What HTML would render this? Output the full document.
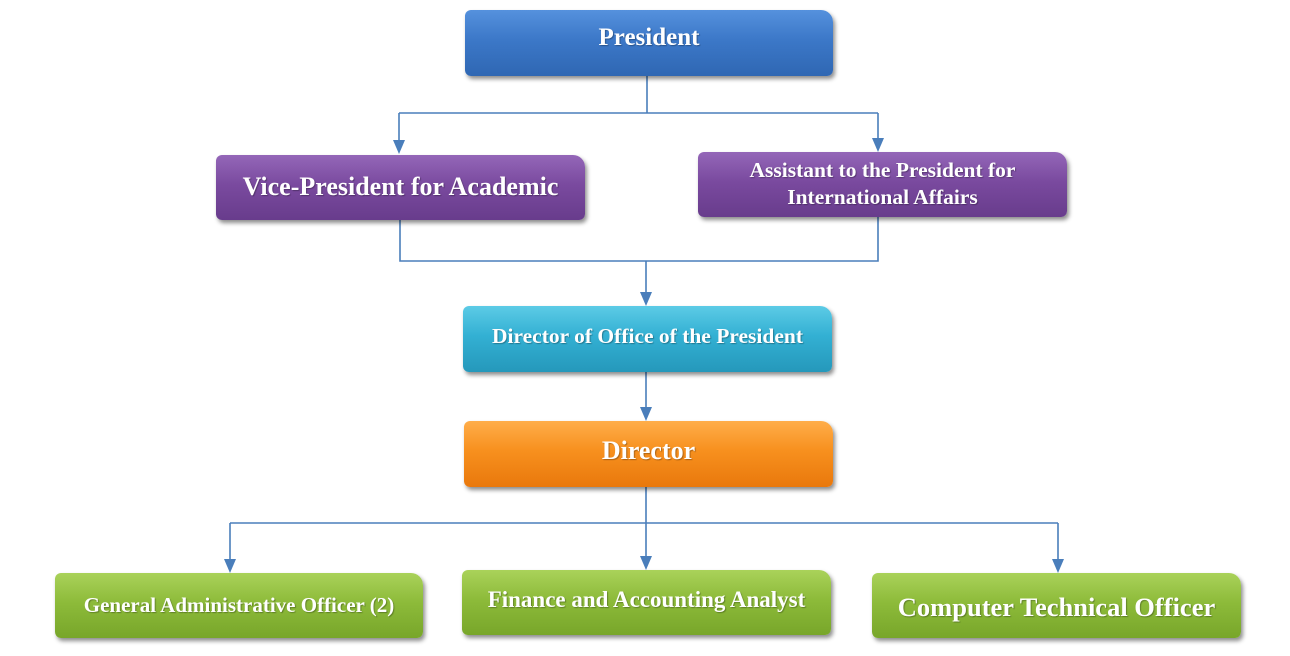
<!DOCTYPE html>
<html><head><style>
body{margin:0;width:1290px;height:656px;background:#fff;position:relative;overflow:hidden;font-family:"Liberation Serif",serif;}
.b{position:absolute;border-radius:6px 12px 6px 6px;color:#fff;font-weight:bold;display:flex;align-items:center;justify-content:center;text-align:center;box-shadow:2px 3px 4px rgba(0,0,0,0.45);text-shadow:1px 1px 1px rgba(0,0,0,0.3);box-sizing:border-box;white-space:nowrap;}
.blue{background:linear-gradient(#5591dd,#3c78c8 45%,#2f67b3);}
.pur{background:linear-gradient(#9467b8,#7a4a9f 45%,#683c8c);}
.cy{background:linear-gradient(#5ccbe6,#33b0d3 45%,#2598bb);}
.or{background:linear-gradient(#ffae4a,#f7901e 45%,#e9780c);}
.gr{background:linear-gradient(#aad25a,#8dbb3a 45%,#78a62a);}
svg{position:absolute;left:0;top:0;}
</style></head><body>
<svg width="1290" height="656">
<g stroke="#4a7ebb" stroke-width="1.6" fill="none">
<path d="M647,76 V113 M399,113 H878 M399,113 V142 M878,113 V140"/>
<path d="M400,220 V261 H878 V217 M646,261 V294"/>
<path d="M646,372 V409"/>
<path d="M646,487 V523 M230,523 H1058 M230,523 V561 M646,523 V558 M1058,523 V561"/>
</g>
<g fill="#4a7ebb">
<path d="M393,140 H405 L399,154 z"/>
<path d="M872,138 H884 L878,152 z"/>
<path d="M640,292 H652 L646,306 z"/>
<path d="M640,407 H652 L646,421 z"/>
<path d="M224,559 H236 L230,573 z"/>
<path d="M640,556 H652 L646,570 z"/>
<path d="M1052,559 H1064 L1058,573 z"/>
</g></svg>
<div class="b blue" style="left:465px;top:10px;width:368px;height:66px;font-size:25px;padding-bottom:10px">President</div>
<div class="b pur" style="left:216px;top:155px;width:369px;height:65px;font-size:26px;padding-bottom:2px">Vice-President for Academic</div>
<div class="b pur" style="left:698px;top:152px;width:369px;height:65px;font-size:21.5px;line-height:27px;padding-bottom:2px">Assistant to the President for<br>International Affairs</div>
<div class="b cy" style="left:463px;top:306px;width:369px;height:66px;font-size:21.5px;padding-bottom:6px">Director of Office of the President</div>
<div class="b or" style="left:464px;top:421px;width:369px;height:66px;font-size:26px;padding-bottom:6px">Director</div>
<div class="b gr" style="left:55px;top:573px;width:368px;height:65px;font-size:21px">General Administrative Officer (2)</div>
<div class="b gr" style="left:462px;top:570px;width:369px;height:65px;font-size:23px;padding-bottom:6px">Finance and Accounting Analyst</div>
<div class="b gr" style="left:872px;top:573px;width:369px;height:65px;font-size:26.5px;padding-top:4px">Computer Technical Officer</div>
</body></html>
